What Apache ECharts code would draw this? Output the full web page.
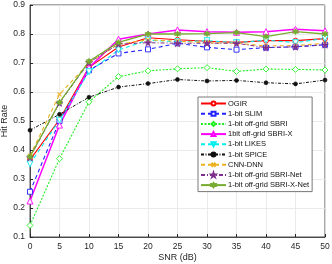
<!DOCTYPE html>
<html><head><meta charset="utf-8">
<script src="https://cdn.jsdelivr.net/npm/echarts@6/dist/echarts.min.js"></script>
<style>html,body{margin:0;padding:0;background:#fff}#c{width:332px;height:264px}</style>
</head><body><div id="c"></div>
<script>
const snr = [0, 5, 10, 15, 20, 25, 30, 35, 40, 45, 50];
const ogir      = [0.366, 0.505, 0.685, 0.755, 0.787, 0.780, 0.775, 0.771, 0.777, 0.777, 0.784];
const slim      = [0.256, 0.500, 0.675, 0.733, 0.747, 0.768, 0.754, 0.746, 0.753, 0.756, 0.763];
const sbri      = [0.140, 0.370, 0.566, 0.653, 0.673, 0.680, 0.684, 0.671, 0.679, 0.678, 0.676];
const sbriX     = [0.224, 0.486, 0.684, 0.782, 0.800, 0.814, 0.808, 0.806, 0.808, 0.816, 0.811];
const likes     = [0.352, 0.503, 0.670, 0.745, 0.779, 0.773, 0.777, 0.770, 0.779, 0.770, 0.785];
const spice     = [0.468, 0.523, 0.582, 0.617, 0.629, 0.643, 0.638, 0.640, 0.632, 0.628, 0.641];
const cnnDnn    = [0.380, 0.592, 0.700, 0.765, 0.780, 0.775, 0.770, 0.768, 0.759, 0.760, 0.768];
const sbriNet   = [0.374, 0.562, 0.702, 0.765, 0.770, 0.768, 0.768, 0.768, 0.753, 0.756, 0.763];
const sbriXNet  = [0.377, 0.564, 0.706, 0.771, 0.800, 0.800, 0.801, 0.805, 0.791, 0.808, 0.800];
const yTicks = [0.1, 0.2, 0.3, 0.4, 0.5, 0.6, 0.7, 0.8, 0.9];

const FONT = 'Liberation Sans';
const P = {
  downTri: 'path://M0,0 L10,0 L5,9 Z',
  cross: 'path://M0,0 L10,10 M10,0 L0,10',
  star: 'path://M5,0 L6.2,3.6 L10,3.6 L6.9,5.9 L8.1,9.5 L5,7.3 L1.9,9.5 L3.1,5.9 L0,3.6 L3.8,3.6 Z',
  hexa: 'path://M5,0 L6.4,2.5 L9.3,2.5 L7.9,5 L9.3,7.5 L6.4,7.5 L5,10 L3.6,7.5 L0.7,7.5 L2.1,5 L0.7,2.5 L3.6,2.5 Z'
};
function mk(name, data, color, lt, lw, symbol, size, filled) {
  return {
    name, type: 'line', data: snr.map((x, i) => [x, data[i]]),
    symbol, symbolSize: size, showSymbol: true,
    lineStyle: { color, width: lw, type: lt },
    itemStyle: filled ? { color, borderColor: color, borderWidth: 0.6 } : { color: '#fff', borderColor: color, borderWidth: 0.9 },
    emphasis: { disabled: true }, animation: false, z: 3
  };
}
const series = [
  mk('OGIR', ogir, '#ff0000', 'solid', 1.1, 'circle', 5, false),
  mk('1-bit SLIM', slim, '#2222ff', [4, 3], 1.1, 'rect', 5, false),
  mk('1-bit off-grid SBRI', sbri, '#22ee22', [2, 1.5], 1.1, 'diamond', 6, false),
  mk('1bit off-grid SBRI-X', sbriX, '#ff00ff', 'solid', 1.5, 'triangle', 6, false),
  mk('1-bit LIKES', likes, '#00eeee', [4, 3], 1.1, P.downTri, 6, false),
  mk('1-bit SPICE', spice, '#111111', [3, 1.5, 1, 1.5], 1, 'circle', 4, true),
  mk('CNN-DNN', cnnDnn, '#edb120', [4, 3], 1.1, P.cross, 4, false),
  mk('1-bit off-grid SBRI-Net', sbriNet, '#7e2f8e', [4, 2, 1, 2], 1, P.star, 7, true),
  mk('1-bit off-grid SBRI-X-Net', sbriXNet, '#77ac30', 'solid', 1.3, P.hexa, 6, true)
];
series[6].itemStyle = { color: '#edb120', borderColor: '#edb120', borderWidth: 1.1 };

const chart = echarts.init(document.getElementById('c'), null, { renderer: 'canvas' });
chart.setOption({
  animation: false,
  backgroundColor: '#fff',
  textStyle: { fontFamily: FONT },
  grid: { left: 30, right: 7, top: 5, bottom: 27, outerBoundsMode: 'none', containLabel: false, show: true, borderColor: '#262626', borderWidth: 0.8, backgroundColor: 'transparent' },
  xAxis: {
    type: 'value', min: 0, max: 50, interval: 5,
    name: 'SNR (dB)', nameLocation: 'middle', nameGap: 16, nameMoveOverlap: false,
    nameTextStyle: { fontSize: 9, color: '#262626', fontFamily: FONT },
    axisLine: { lineStyle: { color: '#262626', width: 0.8 } },
    axisTick: { inside: true, length: 3, lineStyle: { color: '#262626' } },
    axisLabel: { fontSize: 8.5, color: '#262626', margin: 5, fontFamily: FONT },
    splitLine: { show: true, lineStyle: { color: '#e6e6e6', width: 0.8 } }
  },
  yAxis: {
    type: 'value', min: 0.1, max: 0.9, interval: 0.1,
    name: 'Hit Rate', nameLocation: 'middle', nameGap: 21, nameMoveOverlap: false,
    nameTextStyle: { fontSize: 9, color: '#262626', fontFamily: FONT },
    axisLine: { show: true, lineStyle: { color: '#262626', width: 0.8 } },
    axisTick: { show: true, inside: true, length: 3, lineStyle: { color: '#262626' } },
    axisLabel: { fontSize: 8.5, color: '#262626', margin: 5, fontFamily: FONT, formatter: v => { const t = yTicks.find(k => Math.abs(k - v) < 1e-6); return t !== undefined ? t.toFixed(1) : ''; } },
    splitLine: { show: true, lineStyle: { color: '#e6e6e6', width: 0.8 } }
  },
  legend: {
    orient: 'vertical', left: 198, top: 97,
    backgroundColor: '#fff', borderColor: '#555', borderWidth: 0.8,
    padding: [2, 3, 2, 2], itemWidth: 25, itemHeight: 5, itemGap: 1.2,
    textStyle: { fontSize: 7.5, lineHeight: 9, color: '#111', fontFamily: FONT, padding: [0, 0, 0, -3] },
    data: series.map(s => s.name)
  },
  series
});
</script></body></html>
